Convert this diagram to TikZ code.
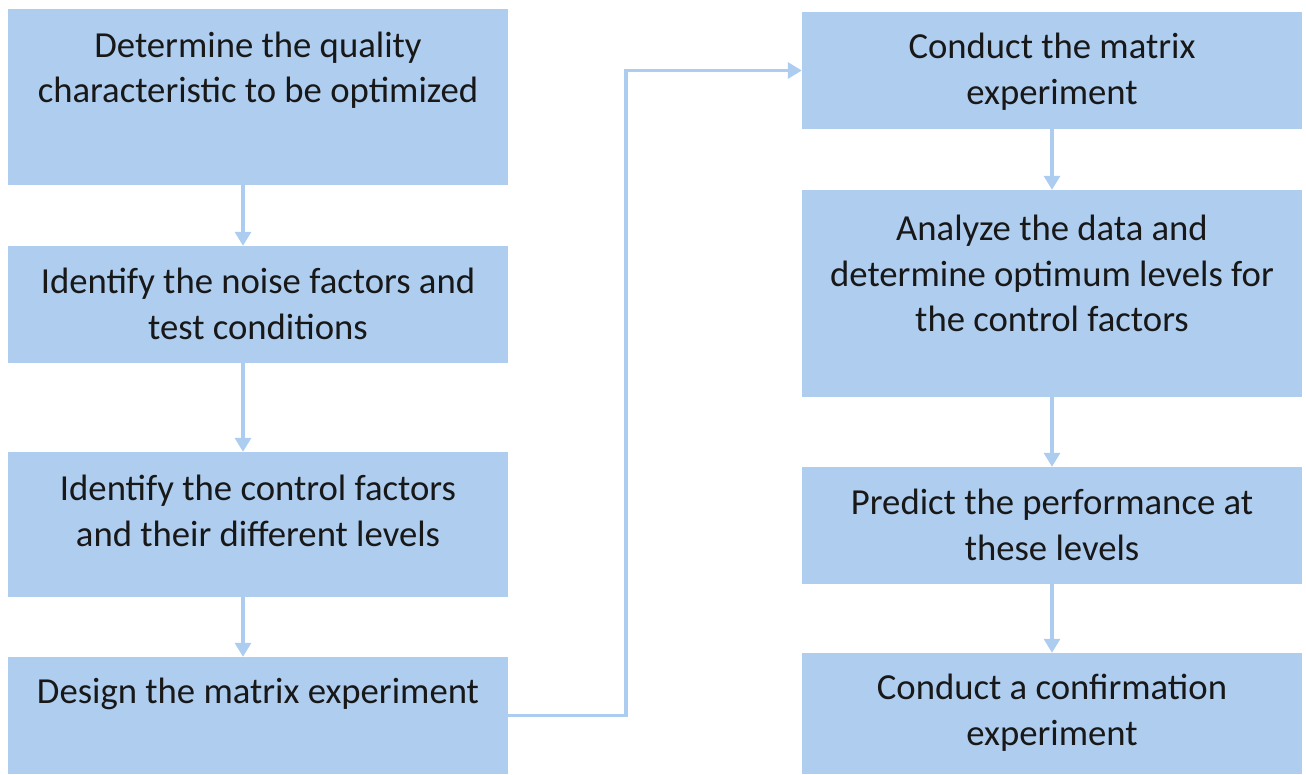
\documentclass[tikz,border=0pt]{standalone}
\usepackage{fontspec}
\setmainfont{Carlito}
\usetikzlibrary{arrows.meta}
\definecolor{boxblue}{RGB}{174,205,239}
\definecolor{linkblue}{RGB}{172,204,240}
\definecolor{inktext}{RGB}{24,24,24}
\begin{document}
\begin{tikzpicture}[x=1pt,y=-1pt,
  stepbox/.style={fill=boxblue,draw=none,inner sep=0pt,minimum width=500pt},
  steptext/.style={align=center,inner sep=0pt,text=inktext,
    font=\fontsize{36.7}{45.5}\selectfont},
  link/.style={draw=linkblue,line width=3.2pt,
    -{Triangle[width=16pt,length=14pt]}}]
\useasboundingbox (0,0) rectangle (1306,774);

% left column of steps
\node[stepbox,minimum height=176pt] (L1) at (258,97) {};
\node[stepbox,minimum height=117pt] (L2) at (258,304.5) {};
\node[stepbox,minimum height=145pt] (L3) at (258,524.5) {};
\node[stepbox,minimum height=117pt] (L4) at (258,715.5) {};
% right column of steps
\node[stepbox,minimum height=117pt] (R1) at (1052,70.5) {};
\node[stepbox,minimum height=207pt] (R2) at (1052,293.5) {};
\node[stepbox,minimum height=117pt] (R3) at (1052,525.5) {};
\node[stepbox,minimum height=121pt] (R4) at (1052,713.5) {};

% step labels
\node[steptext] (tL1) at (258,70) {Determine the quality\\characteristic to be optimized};
\node[steptext] (tL2) at (258,304) {Identify the noise factors and\\test conditions};
\node[steptext] (tL3) at (258,511) {Identify the control factors\\and their different levels};
\node[steptext] (tL4) at (258,693.5) {Design the matrix experiment};
\node[steptext] (tR1) at (1052,71.5) {Conduct the matrix\\experiment};
\node[steptext] (tR2) at (1052,273.5) {Analyze the data and\\determine optimum levels for\\the control factors};
\node[steptext] (tR3) at (1052,525) {Predict the performance at\\these levels};
\node[steptext] (tR4) at (1052,712.5) {Conduct a confirmation\\experiment};

% connector guides
\coordinate (lx) at (243,0);
\coordinate (bend) at (626,400);

% arrows down the left column
\draw[link] (L1.south -| lx) -- (L2.north -| lx);
\draw[link] (L2.south -| lx) -- (L3.north -| lx);
\draw[link] (L3.south -| lx) -- (L4.north -| lx);
% from the last left step to the first right step
\draw[link] (L4.east) -| (bend) |- (R1.west);
% arrows down the right column
\draw[link] (R1.south) -- (R2.north);
\draw[link] (R2.south) -- (R3.north);
\draw[link] (R3.south) -- (R4.north);
\end{tikzpicture}
\end{document}
